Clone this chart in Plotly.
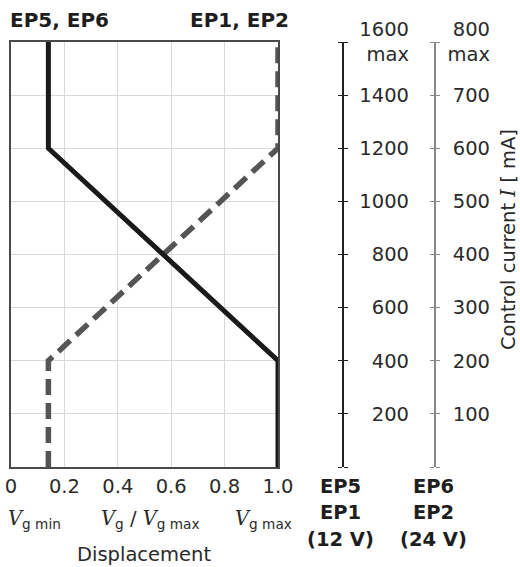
import plotly.graph_objects as go

# ---------------- data ----------------
ep56_disp = [0.14, 0.14, 1.0, 1.0]
ep56_current = [1600, 1200, 400, 0]
ep12_disp = [0.14, 0.14, 1.0, 1.0]
ep12_current = [0, 400, 1200, 1600]

x_ticks = [0, 0.2, 0.4, 0.6, 0.8, 1.0]
x_ticktext = ["0", "0.2", "0.4", "0.6", "0.8", "1.0"]
cur12_ticks = [0, 200, 400, 600, 800, 1000, 1200, 1400, 1600]
cur12_label_ticks = [200, 400, 600, 800, 1000, 1200, 1400, 1600]
cur12_text = ["200", "400", "600", "800", "1000", "1200", "1400", "1600<br>max"]
cur24_ticks = [0, 100, 200, 300, 400, 500, 600, 700, 800]
cur24_label_ticks = [100, 200, 300, 400, 500, 600, 700, 800]
cur24_text = ["100", "200", "300", "400", "500", "600", "700", "800<br>max"]

W, H = 520, 567
def px(x):
    return x / W
def py(y):
    return 1 - y / H

FONT = "DejaVu Sans"
TXT = "#2a2a2a"
FS = 19.5

fig = go.Figure()
fig.add_trace(go.Scatter(x=ep12_disp, y=ep12_current, mode="lines",
                         line=dict(color="#555555", width=5.5, dash="16px,8px"),
                         cliponaxis=False, hoverinfo="skip", showlegend=False))
fig.add_trace(go.Scatter(x=ep56_disp, y=ep56_current, mode="lines",
                         line=dict(color="#1a1a1a", width=5),
                         cliponaxis=False, hoverinfo="skip", showlegend=False))
# empty traces to register the extra axes
for ya in ["y2", "y3", "y4", "y5", "y6", "y7"]:
    fig.add_trace(go.Scatter(x=[None], y=[None], yaxis=ya, hoverinfo="skip",
                             showlegend=False, mode="lines"))

ydom = [py(467), py(42)]
common_axis = dict(overlaying="y", anchor="free", domain=ydom, showgrid=False,
                   zeroline=False, fixedrange=True, automargin=False)

fig.update_layout(
    width=W, height=H,
    margin=dict(l=0, r=0, t=0, b=0),
    paper_bgcolor="white", plot_bgcolor="white",
    font=dict(family=FONT, color=TXT, size=FS),
    xaxis=dict(domain=[px(11), px(278)], range=[0, 1], tickvals=x_ticks, automargin=False,
               ticktext=x_ticktext, showgrid=True, gridcolor="#d8d8d8", gridwidth=1,
               showline=True, mirror=True, linecolor="#4a4a4a", linewidth=2,
               zeroline=False, ticks="", tickfont=dict(size=FS, color=TXT),
               ticklabelstandoff=1, fixedrange=True),
    yaxis=dict(domain=ydom, range=[0, 1600], tickvals=cur12_ticks, showticklabels=False,
               automargin=False, fixedrange=True,
               showgrid=True, gridcolor="#d8d8d8", gridwidth=1, showline=True, mirror=True,
               linecolor="#4a4a4a", linewidth=2, zeroline=False, ticks=""),
    yaxis2=dict(common_axis, position=px(342), side="right", range=[0, 1600],
                tickvals=cur12_ticks, showticklabels=False, ticks="outside", ticklen=4,
                tickwidth=1, tickcolor="#222", showline=True, linecolor="#222", linewidth=1.5),
    yaxis3=dict(common_axis, position=px(342), side="left", range=[0, 1600],
                tickvals=cur12_ticks, showticklabels=False, ticks="outside", ticklen=4,
                tickwidth=1, tickcolor="#222", showline=False),
    yaxis4=dict(common_axis, position=px(409), side="left", range=[0, 1600],
                tickvals=cur12_label_ticks, ticktext=cur12_text, ticks="", showline=False,
                tickfont=dict(size=FS, color=TXT)),
    yaxis5=dict(common_axis, position=px(434), side="right", range=[0, 800],
                tickvals=cur24_ticks, showticklabels=False, ticks="outside", ticklen=4,
                tickwidth=1, tickcolor="#888", showline=True, linecolor="#888", linewidth=1.5),
    yaxis6=dict(common_axis, position=px(434), side="left", range=[0, 800],
                tickvals=cur24_ticks, showticklabels=False, ticks="outside", ticklen=4,
                tickwidth=1, tickcolor="#888", showline=False),
    yaxis7=dict(common_axis, position=px(490), side="left", range=[0, 800],
                tickvals=cur24_label_ticks, ticktext=cur24_text, ticks="", showline=False,
                tickfont=dict(size=FS, color=TXT)),
)

ann = []
def add(text, x, y, xanchor="center", size=FS, bold=False, angle=0):
    ann.append(dict(text=f"<b>{text}</b>" if bold else text, x=px(x), y=py(y),
                    xref="paper", yref="paper", xanchor=xanchor, yanchor="middle",
                    showarrow=False, textangle=angle,
                    font=dict(size=size, color="#1e1e1e" if bold else TXT, family=FONT)))

add("EP5, EP6", 8, 20, xanchor="left", size=20, bold=True)
add("EP1, EP2", 291, 20, xanchor="right", size=20, bold=True)
for i, t in enumerate(["EP5", "EP1", "(12 V)"]):
    add(t, 340, 486 + i * 26.5, size=19.5, bold=True)
for i, t in enumerate(["EP6", "EP2", "(24 V)"]):
    add(t, 433, 486 + i * 26.5, size=19.5, bold=True)

V = '<span style="font-family:\'DejaVu Serif\', serif"><i>V</i></span>'
I = '<span style="font-family:\'DejaVu Serif\', serif"><i>I</i></span>'
add(V + "<sub>g min</sub>", 34, 519)
add(V + "<sub>g</sub> / " + V + "<sub>g max</sub>", 150, 519)
add(V + "<sub>g max</sub>", 263, 519)
add("Displacement", 144, 554, size=FS)
add("Control current " + I + " [ mA]", 508, 240, size=FS, angle=-90)

fig.update_layout(annotations=ann)
fig.write_html("out.html", config={"displayModeBar": False, "staticPlot": True},
               post_script="document.body.style.margin='0px';document.body.style.overflow='hidden';")
